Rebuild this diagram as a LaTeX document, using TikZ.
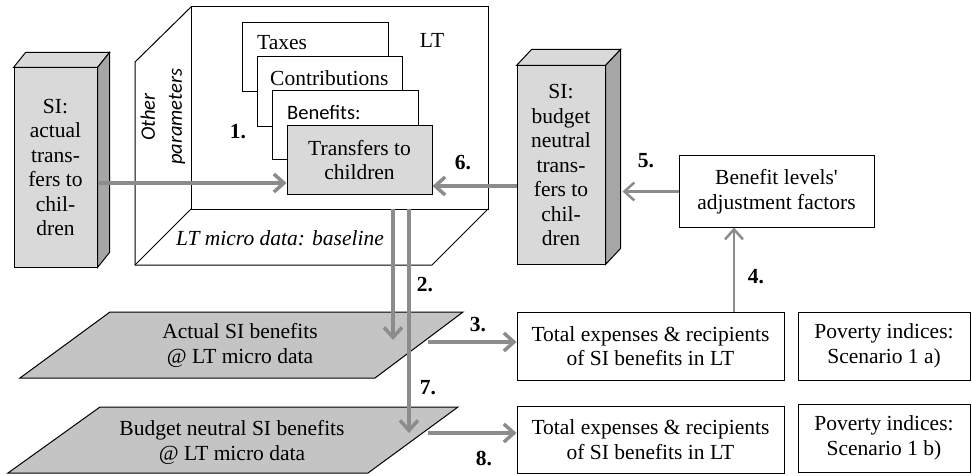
\documentclass[tikz,border=0pt]{standalone}
\usepackage{fontspec}
\setmainfont{Liberation Serif}
\newfontfamily\carlito{Carlito}
\usetikzlibrary{arrows.meta}
\definecolor{boxgray}{HTML}{D9D9D9}
\definecolor{sidegray}{HTML}{A6A6A6}
\definecolor{arrgray}{HTML}{8C8C8C}
\definecolor{platgray}{HTML}{C4C4C4}

\begin{document}
\begin{tikzpicture}[x=1pt,y=-1pt,
    every node/.style={font=\fontsize{21.5}{24.5}\selectfont,inner sep=0pt},
    block/.style={draw,line width=1pt,fill=boxgray,align=center},
    plainbox/.style={draw,line width=1pt,fill=white,align=center},
    card/.style={draw,line width=1pt,fill=white},
    flow/.style={draw=arrgray,line width=3.5pt,-{Straight Barb[length=10pt,width=18pt]}},
    thinflow/.style={flow,line width=2.5pt},
    num/.style={font=\fontsize{21.5}{24}\selectfont\bfseries}]
    \useasboundingbox (0,0) rectangle (972,476);

    % LT micro data box
    \draw[line width=1pt,fill=white](191,7)rectangle(488,209);
    \draw[line width=1pt](135,62)--(191,7);
    \draw[line width=1pt](135,62)--(135,265)--(432,265)--(488,209);
    \draw[line width=1pt](135,265)--(191,209);
    \node[rotate=90,align=center,font=\fontsize{20.5}{27}\selectfont\carlito\itshape](other)at(163,117){Other\\parameters};
    \node[font=\fontsize{21.5}{24}\selectfont\itshape](micro)at(280,238){LT micro data: baseline};
    \node(lt)at(432,40){LT};

    % parameter cards
    \draw[card](242,23)rectangle(388,92);
    \draw[card](257,57)rectangle(402,127);
    \draw[card](272,91)rectangle(418,160);
    \node[anchor=west](taxes)at(257,43){Taxes};
    \node[anchor=west](contr)at(270,78){Contributions};
    \node[anchor=west,font=\fontsize{20.5}{24}\selectfont\carlito](benef)at(287,112){Benefits:};
    \node[block,minimum width=145pt,minimum height=68pt](trans)at(359.5,160){Transfers to\\children};

    % SI blocks
    \node[block,minimum width=83pt,minimum height=199pt](sia)at(55.5,167.5){SI:\\actual\\trans-\\fers to\\chil-\\dren};
    \draw[line width=1pt,fill=boxgray](sia.north west)--++(12,-15)--([shift={(12,-15)}]sia.north east)--(sia.north east)--cycle;
    \draw[line width=1pt,fill=sidegray](sia.north east)--++(12,-15)--([shift={(12,-15)}]sia.south east)--(sia.south east)--cycle;
    \node[block,minimum width=88pt,minimum height=198pt](sib)at(561,165){SI:\\budget\\neutral\\trans-\\fers to\\chil-\\dren};
    \draw[line width=1pt,fill=boxgray](sib.north west)--++(15,-16)--([shift={(15,-16)}]sib.north east)--(sib.north east)--cycle;
    \draw[line width=1pt,fill=sidegray](sib.north east)--++(15,-16)--([shift={(15,-16)}]sib.south east)--(sib.south east)--cycle;

    % result boxes
    \node[plainbox,minimum width=195pt,minimum height=71pt](ben)at(776.5,191.5){Benefit levels\textquotesingle\\adjustment factors};
    \node[plainbox,minimum width=267pt,minimum height=68pt](tot1)at(650.5,346){Total expenses \& recipients\\of SI benefits in LT};
    \node[plainbox,minimum width=172pt,minimum height=68pt](pov1)at(884,346){Poverty indices:\\Scenario 1 a)};
    \node[plainbox,minimum width=267pt,minimum height=67pt](tot2)at(650.5,439.5){Total expenses \& recipients\\of SI benefits in LT};
    \node[plainbox,minimum width=172pt,minimum height=68pt](pov2)at(884,438){Poverty indices:\\Scenario 1 b)};

    % micro data layers
    \draw[line width=1pt,fill=platgray](110,312)--(463,312)--(375,378)--(20,378)--cycle;
    \node[align=center](act)at(240,345.5){Actual SI benefits\\@ LT micro data};
    \draw[line width=1pt,fill=platgray](100,407)--(458,407)--(368,473)--(8,473)--cycle;
    \node[align=center](bud)at(232,442.5){Budget neutral SI benefits\\@ LT micro data};

    % flows
    \draw[flow]([yshift=-15.5pt]sia.east)--([yshift=-15.5pt]sia.east-|trans.west);
    \draw[flow]([yshift=-21pt]sib.west)--([yshift=-21pt]sib.west-|trans.east);
    \draw[thinflow](ben.west)--([xshift=17pt]sib.east|-ben.west);
    \draw[thinflow]([xshift=83.5pt]tot1.north)--([xshift=83.5pt]tot1.north|-ben.south);
    \coordinate(s2)at(393,209);
    \coordinate(e2)at(393,340);
    \coordinate(s7)at(409,209);
    \coordinate(e7)at(409,433);
    \draw[flow](s2)--(e2);
    \draw[flow](s7)--(e7);
    \coordinate(s3)at(428,342);
    \coordinate(s8)at(428,433);
    \draw[flow](s3)--(s3-|tot1.west);
    \draw[flow](s8)--(s8-|tot2.west);

    % step numbers
    \node[num](n1)at(238,132){1.};
    \node[num](n2)at(425,285){2.};
    \node[num](n3)at(478,325){3.};
    \node[num](n4)at(756,277){4.};
    \node[num](n5)at(646,161){5.};
    \node[num](n6)at(463,163){6.};
    \node[num](n7)at(428,388){7.};
    \node[num](n8)at(484,458){8.};
\end{tikzpicture}
\end{document}
